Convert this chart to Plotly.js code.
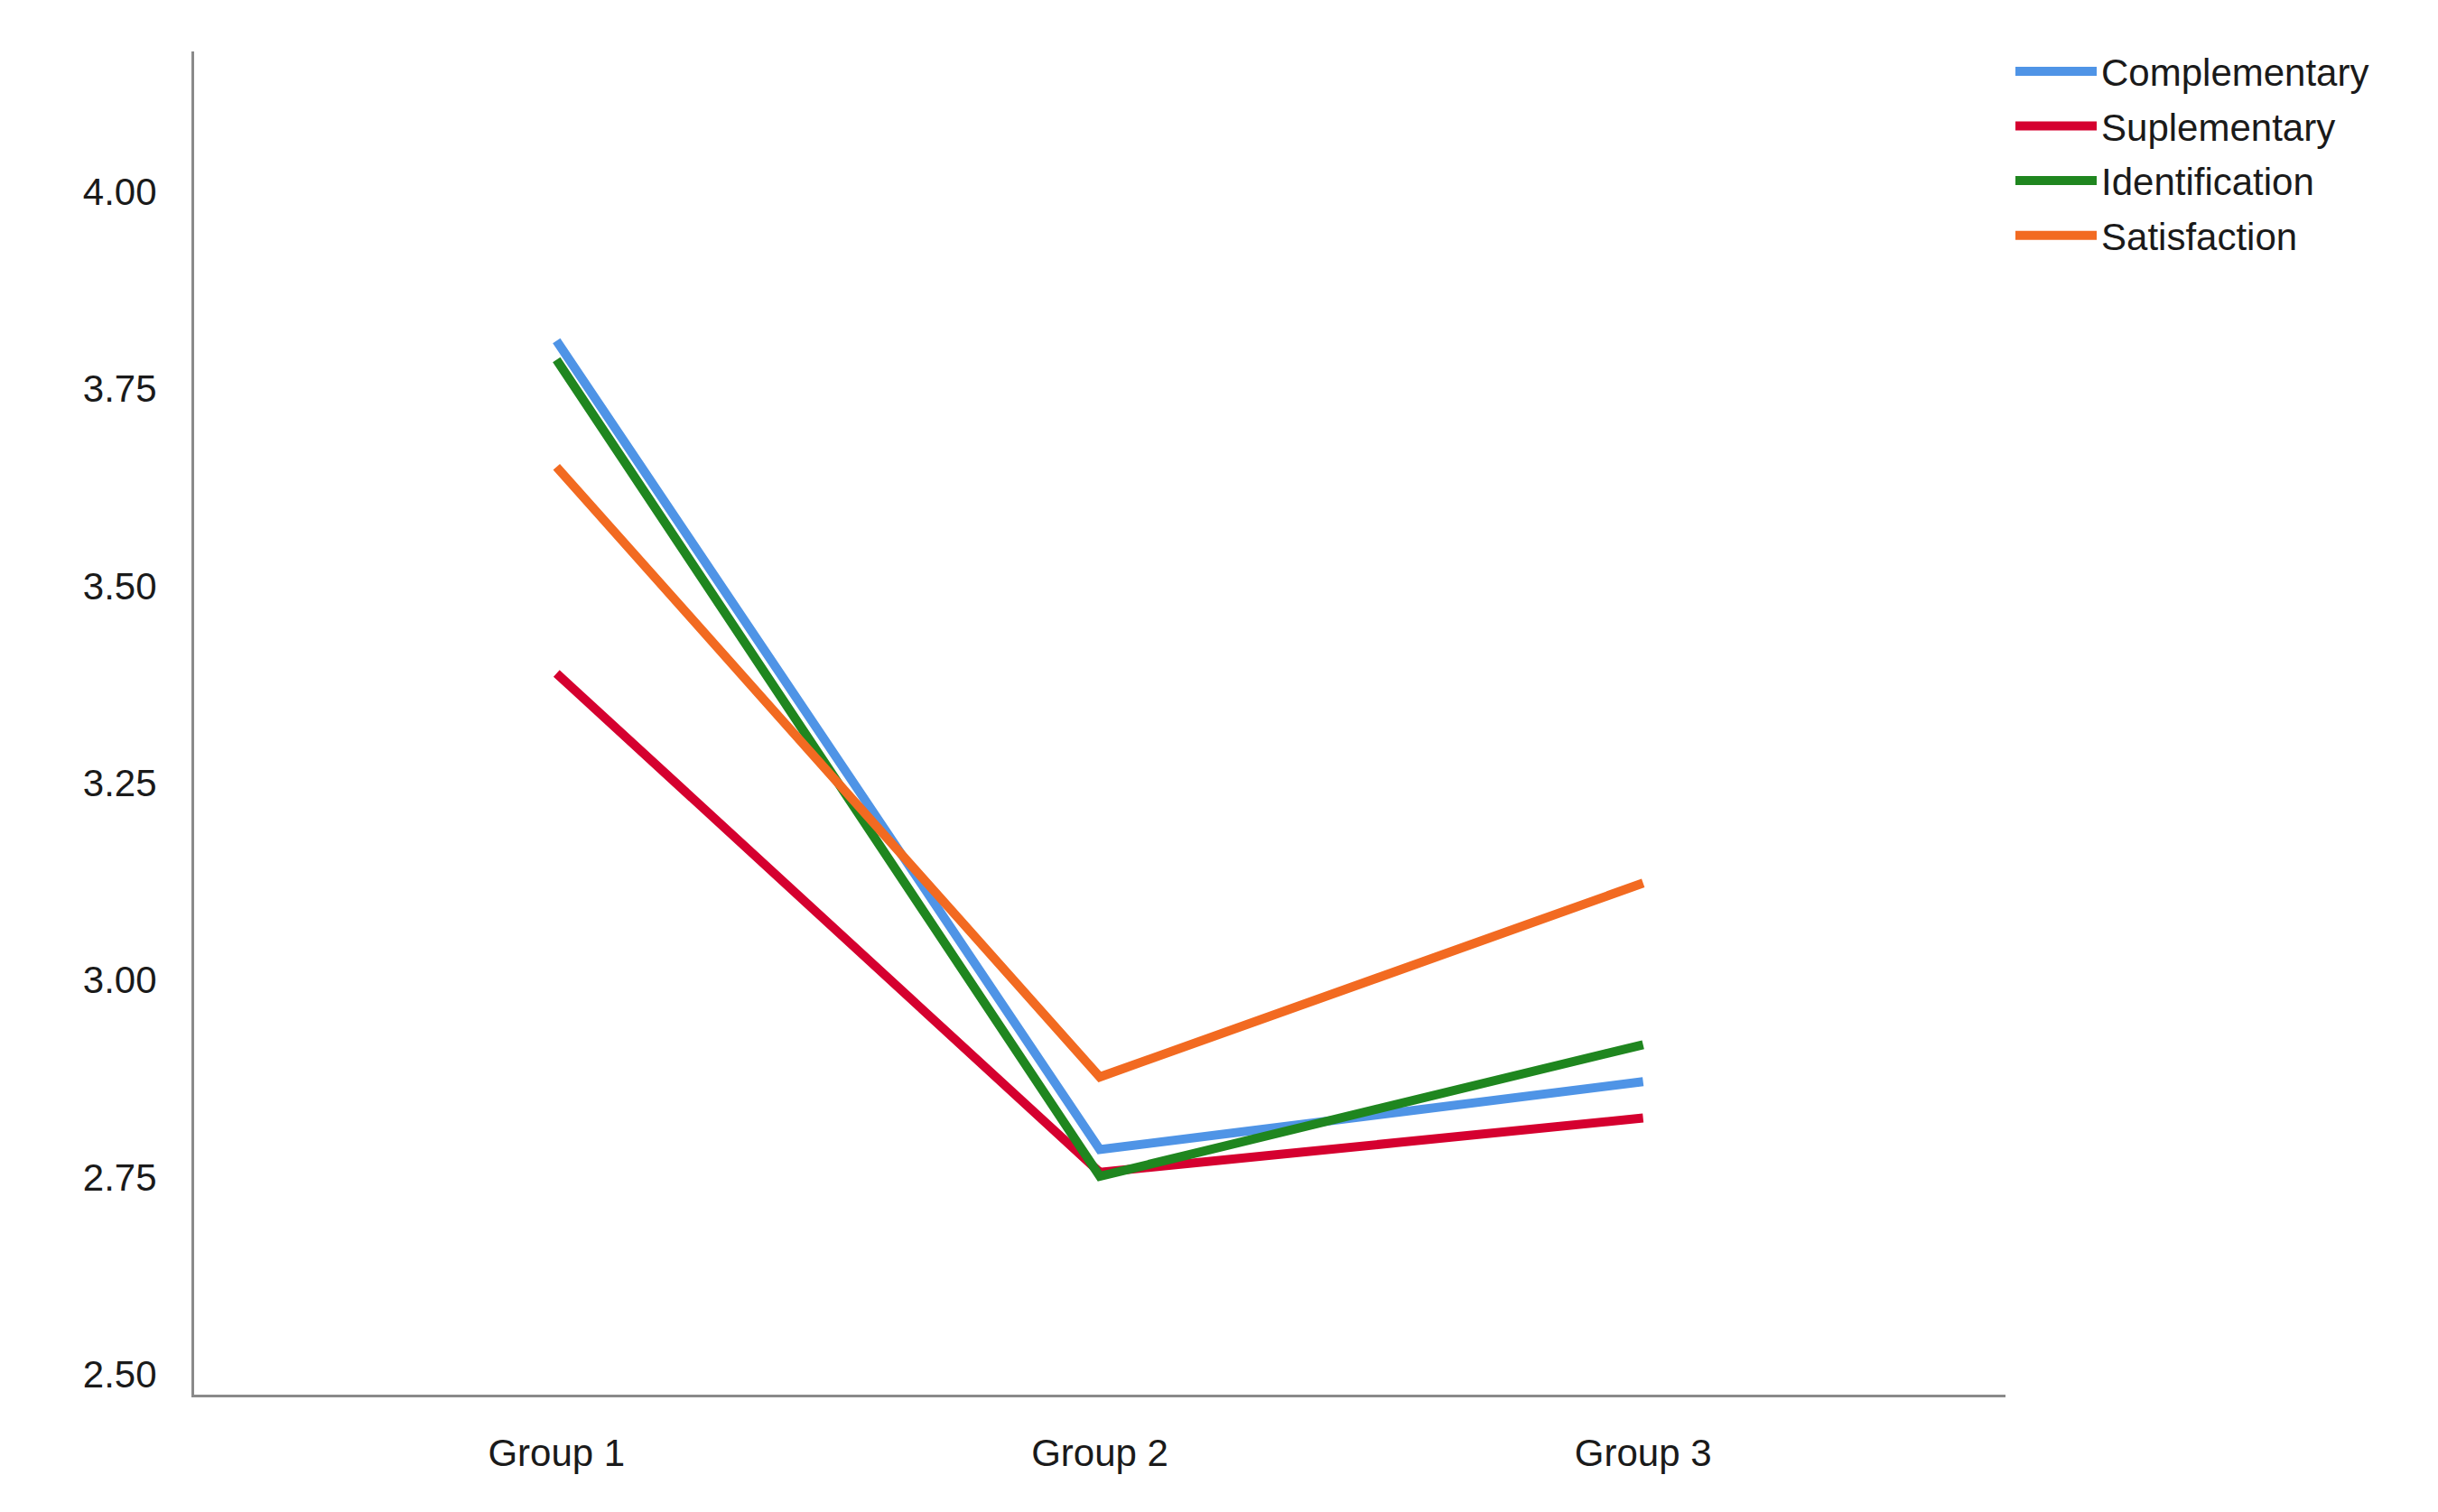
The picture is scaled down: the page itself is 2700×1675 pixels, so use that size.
<!DOCTYPE html>
<html>
<head>
<meta charset="utf-8">
<script src="https://cdn.plot.ly/plotly-3.0.1.min.js"></script>
<style>html,body{margin:0;padding:0;background:#fff;}#chart{width:2700px;height:1675px;}</style>
</head>
<body>
<div id="chart"></div>
<script>
const groups = ["Group 1", "Group 2", "Group 3"];
const complementary = [3.811, 2.785, 2.871];
const suplementary = [3.389, 2.756, 2.825];
const identification = [3.787, 2.751, 2.918];
const satisfaction = [3.651, 2.877, 3.123];
const seriesNames = ["Complementary", "Suplementary", "Identification", "Satisfaction"];
const seriesColors = ["#4f94e6", "#d5002f", "#1f861f", "#f26a21"];
const yTickVals = [2.50, 2.75, 3.00, 3.25, 3.50, 3.75, 4.00];
const yTickText = ["2.50", "2.75", "3.00", "3.25", "3.50", "3.75", "4.00"];

const seriesValues = [complementary, suplementary, identification, satisfaction];
const traces = seriesValues.map((vals, i) => ({
  type: "scatter",
  mode: "lines",
  x: groups,
  y: vals,
  name: seriesNames[i],
  legendgroup: "g" + i,
  line: {color: seriesColors[i], width: 10}
}));

const font = {family: "Liberation Sans, Arial, Helvetica, sans-serif", size: 42, color: "#1a1a1a"};

const layout = {
  width: 2700,
  height: 1675,
  paper_bgcolor: "#ffffff",
  plot_bgcolor: "#ffffff",
  margin: {l: 215, r: 479, t: 57, b: 130},
  font: font,
  showlegend: true,
  legend: {
    x: 1.003, y: 1.008, xanchor: "left", yanchor: "top",
    font: font,
    itemwidth: 90,
    tracegroupgap: 3,
    bgcolor: "rgba(0,0,0,0)"
  },
  xaxis: {
    type: "category",
    range: [-0.667, 2.667],
    showgrid: false,
    zeroline: false,
    showline: true,
    linecolor: "#8a8a8a",
    linewidth: 3,
    ticks: "",
    ticklabelstandoff: 26,
    tickfont: font
  },
  yaxis: {
    range: [2.474, 4.178],
    tickvals: yTickVals,
    ticktext: yTickText,
    showgrid: false,
    zeroline: false,
    showline: true,
    linecolor: "#8a8a8a",
    linewidth: 3,
    ticks: "",
    ticklabelstandoff: 30,
    tickfont: font
  }
};

Plotly.newPlot("chart", traces, layout, {displayModeBar: false, staticPlot: true});
</script>
</body>
</html>
